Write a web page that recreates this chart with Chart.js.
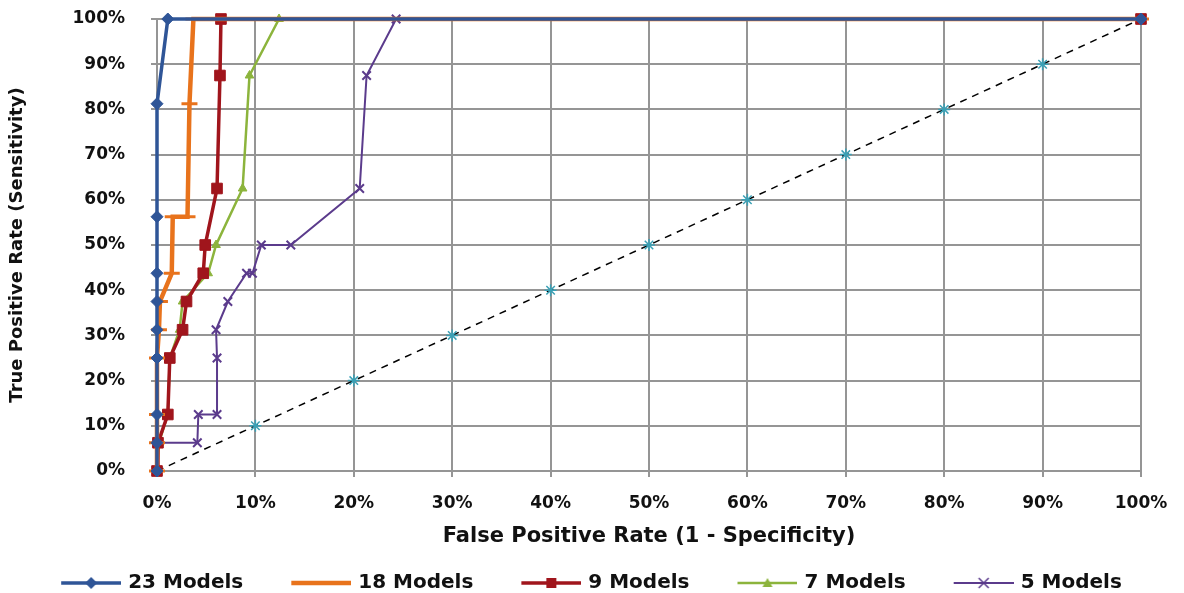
<!DOCTYPE html>
<html>
<head>
<meta charset="utf-8">
<script src="https://cdn.jsdelivr.net/npm/chart.js@4.4.1/dist/chart.umd.min.js"></script>
<style>
  html, body { margin: 0; padding: 0; background: #fff; }
</style>
</head>
<body>
<canvas id="roc" width="1184" height="593"></canvas>
<script>
// ROC curves, values in percent
const fpr23 = [0, 0, 0, 0, 0, 0, 0, 0, 0, 1.1, 100];
const tpr23 = [0, 6.25, 12.5, 25, 31.25, 37.5, 43.75, 56.25, 81.25, 100, 100];

const fpr18 = [0, 0, 0, 0, 0.2, 0.3, 1.5, 1.6, 3.1, 3.3, 3.7, 100];
const tpr18 = [0, 6.25, 12.5, 25, 31.25, 37.5, 43.75, 56.25, 56.25, 81.25, 100, 100];

const fpr9 = [0, 0.1, 1.1, 1.3, 2.6, 3.0, 4.7, 4.9, 6.1, 6.4, 6.5, 100];
const tpr9 = [0, 6.25, 12.5, 25, 31.25, 37.5, 43.75, 50, 62.5, 87.5, 100, 100];

const fpr7 = [0, 0.2, 1.1, 1.3, 2.3, 2.6, 5.2, 6.0, 8.7, 9.4, 12.4, 100];
const tpr7 = [0, 6.25, 12.5, 25, 31.25, 37.5, 43.75, 50, 62.5, 87.5, 100, 100];

const fpr5 = [0, 0, 4.1, 4.2, 6.1, 6.1, 6.0, 7.2, 9.1, 9.7, 10.6, 13.6, 20.6, 21.3, 24.3, 100];
const tpr5 = [0, 6.25, 6.25, 12.5, 12.5, 25, 31.25, 37.5, 43.75, 43.75, 50, 50, 62.5, 87.5, 100, 100];

const fprChance = [0, 10, 20, 30, 40, 50, 60, 70, 80, 90, 100];
const tprChance = [0, 10, 20, 30, 40, 50, 60, 70, 80, 90, 100];

const axisTicks = [0, 10, 20, 30, 40, 50, 60, 70, 80, 90, 100];

const toPoints = (xs, ys) => xs.map((x, i) => ({ x: x, y: ys[i] }));

// small canvas used as legend symbol: line with the marker in the middle
const legendIcon = (color, marker, lineWidth) => {
  const c = document.createElement("canvas");
  c.width = 105;
  c.height = 16;
  const ctx = c.getContext("2d");
  const x0 = 45, cx = 75, cy = 8;
  ctx.strokeStyle = color;
  ctx.fillStyle = color;
  ctx.lineWidth = lineWidth;
  ctx.beginPath();
  ctx.moveTo(x0, cy);
  ctx.lineTo(105, cy);
  ctx.stroke();
  ctx.beginPath();
  if (marker === "diamond") {
    ctx.moveTo(cx, cy - 6); ctx.lineTo(cx + 6, cy); ctx.lineTo(cx, cy + 6); ctx.lineTo(cx - 6, cy);
    ctx.closePath(); ctx.fill();
  } else if (marker === "square") {
    ctx.fillRect(cx - 5, cy - 5, 10, 10);
  } else if (marker === "triangle") {
    ctx.moveTo(cx, cy - 5); ctx.lineTo(cx + 5, cy + 4); ctx.lineTo(cx - 5, cy + 4);
    ctx.closePath(); ctx.fill();
  } else if (marker === "cross") {
    ctx.lineWidth = 1.5;
    ctx.moveTo(cx - 5, cy - 5); ctx.lineTo(cx + 5, cy + 5);
    ctx.moveTo(cx + 5, cy - 5); ctx.lineTo(cx - 5, cy + 5);
    ctx.stroke();
  }
  return c;
};

const buildSet = (label, xs, ys, color, style, radius, width, marker) => {
  return {
    label: label,
    data: toPoints(xs, ys),
    borderColor: color,
    backgroundColor: color,
    borderWidth: width,
    pointStyle: style,
    pointRadius: radius,
    pointBorderColor: color,
    pointBackgroundColor: color,
    pointBorderWidth: style === "line" ? 3 : style === "crossRot" ? 2 : 1,
    tension: 0,
    clip: false,
    icon: legendIcon(color, marker, width),
  };
};

const datasets = [
  buildSet("23 Models", fpr23, tpr23, "#2f5597", "rectRot", 6, 3.5, "diamond"),
  buildSet("18 Models", fpr18, tpr18, "#e8731c", "line", 8, 4.5, "none"),
  buildSet("9 Models", fpr9, tpr9, "#a0151c", "rect", 7.5, 3.5, "square"),
  buildSet("7 Models", fpr7, tpr7, "#8cb43c", "triangle", 5, 2.5, "triangle"),
  buildSet("5 Models", fpr5, tpr5, "#5b3b8c", "crossRot", 6, 2, "cross"),
  {
    label: "",
    data: toPoints(fprChance, tprChance),
    borderColor: "#000",
    borderWidth: 1.5,
    borderDash: [7, 6],
    pointStyle: "star",
    pointRadius: 6,
    pointBorderColor: "#3aa0b5",
    pointBorderWidth: 1.5,
    tension: 0,
    clip: false,
  },
];

const gridColor = "#959595";

new Chart(document.getElementById("roc"), {
  type: "line",
  data: { datasets: datasets },
  options: {
    responsive: false,
    animation: false,
    events: [],
    layout: {
      padding: { top: 19, right: 43, left: 0, bottom: 0 },
    },
    font: { family: "'DejaVu Sans', sans-serif" },
    scales: {
      x: {
        type: "linear",
        min: 0,
        max: 100,
        afterBuildTicks: (scale) => {
          scale.ticks = axisTicks.map((v) => ({ value: v }));
        },
        afterFit: (scale) => {
          scale.height = 96;
        },
        grid: {
          color: gridColor,
          lineWidth: 2,
          tickLength: 6,
        },
        border: { color: gridColor, width: 2 },
        ticks: {
          padding: 16,
          color: "#111",
          font: { family: "'DejaVu Sans'", size: 17, weight: "bold" },
          callback: (v) => v + "%",
        },
        title: {
          display: true,
          text: "False Positive Rate (1 - Specificity)",
          color: "#111",
          font: { family: "'DejaVu Sans'", size: 21, weight: "bold" },
          padding: { top: 0, bottom: 18 },
        },
      },
      y: {
        type: "linear",
        min: 0,
        max: 100,
        afterBuildTicks: (scale) => {
          scale.ticks = axisTicks.map((v) => ({ value: v }));
        },
        afterFit: (scale) => {
          scale.width = 157;
          scale.paddingTop = 0;
          scale.paddingBottom = 0;
        },
        grid: {
          color: gridColor,
          lineWidth: 2,
          tickLength: 6,
        },
        border: { color: gridColor, width: 2 },
        ticks: {
          padding: 26,
          color: "#111",
          font: { family: "'DejaVu Sans'", size: 17, weight: "bold" },
          callback: (v) => v + "%",
        },
        title: {
          display: true,
          text: "True Positive Rate (Sensitivity)",
          color: "#111",
          font: { family: "'DejaVu Sans'", size: 18, weight: "bold" },
          padding: { top: 7, bottom: 0 },
        },
      },
    },
    plugins: {
      tooltip: { enabled: false },
      legend: {
        position: "bottom",
        maxHeight: 26,
        labels: {
          usePointStyle: true,
          pointStyleWidth: 99,
          padding: 6,
          color: "#111",
          font: { family: "'DejaVu Sans'", size: 20, weight: "bold" },
          generateLabels: (chart) =>
            chart.data.datasets
              .map((d, i) => ({ d: d, i: i }))
              .filter((o) => o.d.label)
              .map((o) => ({
                text: o.d.label,
                pointStyle: o.d.icon,
                fillStyle: o.d.borderColor,
                strokeStyle: o.d.borderColor,
                lineWidth: 0,
                hidden: false,
                datasetIndex: o.i,
                fontColor: "#111",
              })),
        },
      },
    },
  },
});
</script>
</body>
</html>
